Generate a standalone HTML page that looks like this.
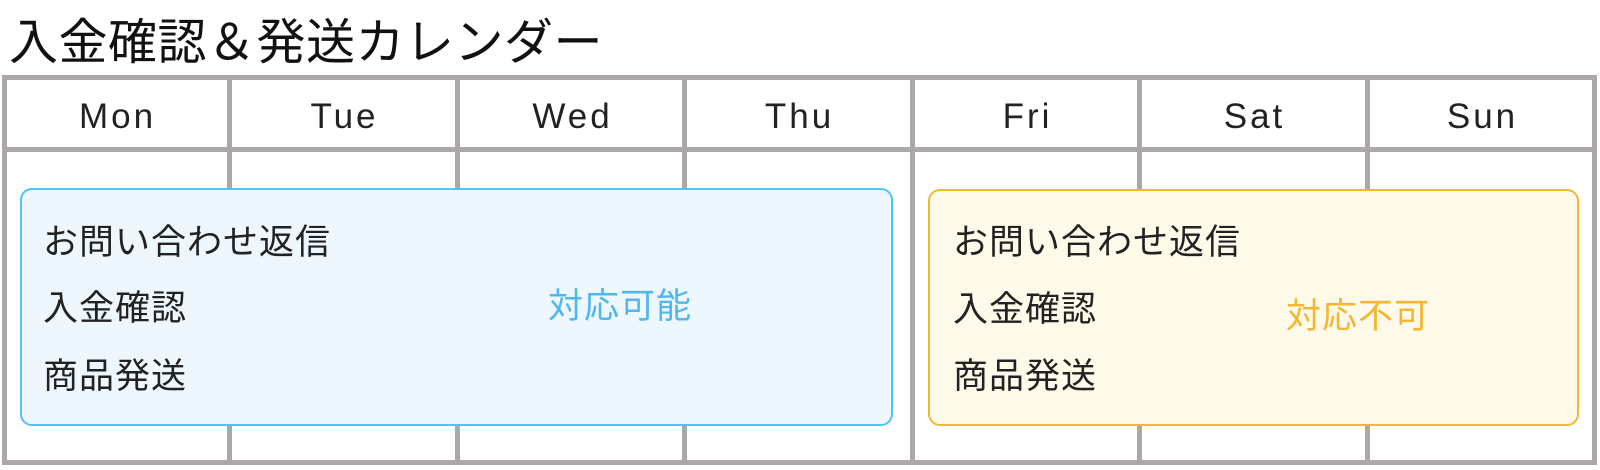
<!DOCTYPE html>
<html><head><meta charset="utf-8"><style>
body{margin:0;width:1600px;height:470px;background:#fff;position:relative;overflow:hidden;font-family:"Liberation Sans","Noto Sans CJK JP",sans-serif;color:#111}
.a{position:absolute}
.h{position:absolute;background:#aba8a7;height:5px;left:2px;width:1595px}
.v{position:absolute;background:#aba8a7;width:5px}
.d{position:absolute;top:83px;height:67px;width:227px;text-align:center;line-height:67px;font-size:35px;letter-spacing:3px;color:#222}
.box{position:absolute;border-radius:12px;box-sizing:border-box}
.t{position:absolute;font-size:35px;letter-spacing:1px;line-height:44px;white-space:nowrap;color:#222}
</style></head><body>
<div class="a" style="left:9px;top:14px;font-size:49px;letter-spacing:0.5px;line-height:58px;white-space:nowrap;color:#111">入金確認＆発送カレンダー</div>
<div class="h" style="top:75px"></div>
<div class="h" style="top:147px"></div>
<div class="h" style="top:460px"></div>
<div class="v" style="left:2px;top:75px;height:390px"></div>
<div class="v" style="left:227px;top:75px;height:390px"></div>
<div class="v" style="left:455px;top:75px;height:390px"></div>
<div class="v" style="left:682px;top:75px;height:390px"></div>
<div class="v" style="left:910px;top:75px;height:390px"></div>
<div class="v" style="left:1137px;top:75px;height:390px"></div>
<div class="v" style="left:1365px;top:75px;height:390px"></div>
<div class="v" style="left:1592px;top:75px;height:390px"></div>
<div class="d" style="left:4px">Mon</div>
<div class="d" style="left:231px">Tue</div>
<div class="d" style="left:459px">Wed</div>
<div class="d" style="left:686px">Thu</div>
<div class="d" style="left:914px">Fri</div>
<div class="d" style="left:1141px">Sat</div>
<div class="d" style="left:1369px">Sun</div>
<div class="box" style="left:20px;top:188px;width:873px;height:238px;background:#eef7fe;border:2px solid #4fc3f7"></div>
<div class="box" style="left:928px;top:189px;width:651px;height:237px;background:#fefae9;border:2px solid #f5b731"></div>
<div class="t" style="left:43px;top:221px">お問い合わせ返信</div>
<div class="t" style="left:43px;top:287px">入金確認</div>
<div class="t" style="left:43px;top:355px">商品発送</div>
<div class="t" style="left:548px;top:285px;color:#4fb8ec">対応可能</div>
<div class="t" style="left:953px;top:221px">お問い合わせ返信</div>
<div class="t" style="left:953px;top:288px">入金確認</div>
<div class="t" style="left:953px;top:355px">商品発送</div>
<div class="t" style="left:1286px;top:295px;color:#f5b731">対応不可</div>
</body></html>
